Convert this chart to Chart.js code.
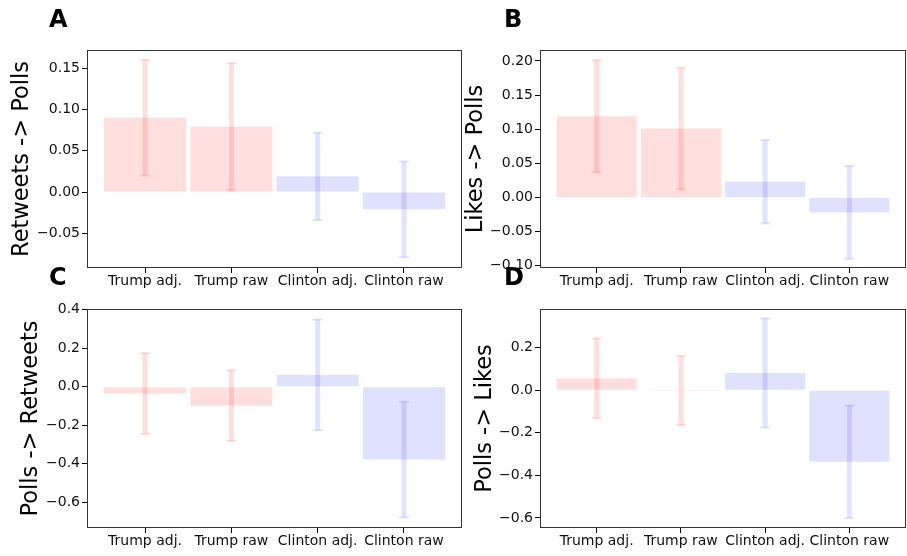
<!DOCTYPE html>
<html>
<head>
<meta charset="utf-8">
<script src="https://cdn.jsdelivr.net/npm/chart.js@4"></script>
<style>
  body { margin: 0; background: #fff; }
  #wrap { position: relative; width: 907px; height: 556px; overflow: hidden; font-family: "DejaVu Sans", sans-serif; }
  canvas { position: absolute; }
  .letter { position: absolute; font: bold 24px "DejaVu Sans", sans-serif; line-height: 1; color: #000; }
</style>
</head>
<body>
<div id="wrap">
  <canvas id="chartA" width="470" height="292" style="left:0;top:0"></canvas>
  <canvas id="chartB" width="452" height="292" style="left:455px;top:0"></canvas>
  <canvas id="chartC" width="470" height="266" style="left:0;top:290px"></canvas>
  <canvas id="chartD" width="452" height="266" style="left:455px;top:290px"></canvas>
  <div class="letter" style="left:49px;top:7px">A</div>
  <div class="letter" style="left:504px;top:7px">B</div>
  <div class="letter" style="left:49px;top:265px">C</div>
  <div class="letter" style="left:504px;top:265px">D</div>
</div>
<script>
// categories shared by all four panels
const categories = ['Trump adj.', 'Trump raw', 'Clinton adj.', 'Clinton raw'];

// A: Retweets -> Polls
const retweetsToPolls = [0.090, 0.079, 0.019, -0.021];
const retweetsToPollsErr = [0.070, 0.077, 0.053, 0.058];
const ticksA = [-0.05, 0.00, 0.05, 0.10, 0.15];

// B: Likes -> Polls
const likesToPolls = [0.119, 0.101, 0.023, -0.022];
const likesToPollsErr = [0.082, 0.089, 0.061, 0.068];
const ticksB = [-0.10, -0.05, 0.00, 0.05, 0.10, 0.15, 0.20];

// C: Polls -> Retweets
const pollsToRetweets = [-0.035, -0.098, 0.062, -0.378];
const pollsToRetweetsErr = [0.210, 0.183, 0.287, 0.300];
const ticksC = [-0.6, -0.4, -0.2, 0.0, 0.2, 0.4];

// D: Polls -> Likes
const pollsToLikes = [0.055, -0.002, 0.081, -0.336];
const pollsToLikesErr = [0.187, 0.162, 0.256, 0.264];
const ticksD = [-0.6, -0.4, -0.2, 0.0, 0.2];

const barColors = ['rgba(255,0,0,0.13)', 'rgba(255,0,0,0.13)', 'rgba(0,0,255,0.12)', 'rgba(0,0,255,0.12)'];
const errColors = ['rgba(255,0,0,0.13)', 'rgba(255,0,0,0.13)', 'rgba(0,0,255,0.11)', 'rgba(0,0,255,0.11)'];

const tickFont = { family: 'DejaVu Sans', size: 14 };

// frame around the plot area, like matplotlib spines
const boxPlugin = {
  id: 'box',
  afterDraw(chart) {
    const a = chart.chartArea;
    const ctx = chart.ctx;
    ctx.save();
    ctx.strokeStyle = '#333';
    ctx.lineWidth = 1;
    ctx.strokeRect(Math.round(a.left) + 0.5, Math.round(a.top) + 0.5, Math.round(a.right - a.left) - 1, Math.round(a.bottom - a.top) - 1);
    ctx.restore();
  }
};

// error bars with caps, positioned with the chart's own scales
const errorBarPlugin = {
  id: 'errorBars',
  afterDatasetsDraw(chart, args, opts) {
    const ctx = chart.ctx;
    const xs = chart.scales.x, ys = chart.scales.y;
    ctx.save();
    opts.values.forEach((v, i) => {
      const x = xs.getPixelForValue(i);
      const top = ys.getPixelForValue(v + opts.errors[i]);
      const bot = ys.getPixelForValue(v - opts.errors[i]);
      ctx.fillStyle = errColors[i];
      ctx.fillRect(x - 2.5, top, 5, bot - top);
      ctx.fillRect(x - 5, top - 1, 10, 2);
      ctx.fillRect(x - 5, bot - 1, 10, 2);
    });
    ctx.restore();
  }
};

function makePanel(id, values, errors, yMin, yMax, yTicks, decimals, yTitle, sizes) {
  new Chart(document.getElementById(id), {
    type: 'bar',
    data: {
      datasets: [{
        data: values.map((v, i) => ({ x: i, y: v })),
        backgroundColor: barColors,
        borderWidth: 0,
        categoryPercentage: 0.95,
        barPercentage: 1.0
      }]
    },
    options: {
      responsive: false,
      animation: false,
      devicePixelRatio: 1,
      layout: { padding: { top: sizes.top, right: sizes.right, left: 0, bottom: 0 } },
      plugins: {
        legend: { display: false },
        tooltip: { enabled: false },
        errorBars: { values: values, errors: errors }
      },
      scales: {
        x: {
          type: 'linear',
          offset: false,
          min: -0.6725,
          max: 3.6725,
          grid: { drawOnChartArea: false, offset: false, tickLength: 5, color: '#000' },
          border: { display: false },
          afterBuildTicks: s => { s.ticks = categories.map((c, i) => ({ value: i })); },
          afterFit: s => { s.height = sizes.xh; },
          ticks: {
            font: tickFont, color: '#111', padding: 0, maxRotation: 0, autoSkip: false,
            callback: v => categories[v]
          }
        },
        y: {
          min: yMin,
          max: yMax,
          grid: { drawOnChartArea: false, tickLength: 5, color: '#000' },
          border: { display: false },
          afterBuildTicks: s => { s.ticks = yTicks.map(v => ({ value: v })); },
          afterFit: s => { s.width = sizes.yw; },
          ticks: {
            font: tickFont, color: '#111', padding: 2,
            callback: v => v.toFixed(decimals).replace('-', '\u2212')
          },
          title: {
            display: true, text: yTitle, color: '#000',
            font: { family: 'DejaVu Sans', size: 22.5 },
            padding: { top: sizes.tp, bottom: 0 }
          }
        }
      }
    },
    plugins: [boxPlugin, errorBarPlugin]
  });
}

makePanel('chartA', retweetsToPolls, retweetsToPollsErr, -0.092, 0.172, ticksA, 2, 'Retweets -> Polls', { top: 50, right: 8, xh: 24, yw: 87, tp: 9 });
makePanel('chartB', likesToPolls, likesToPollsErr, -0.1034, 0.216, ticksB, 2, 'Likes -> Polls', { top: 50, right: 1, xh: 24, yw: 85, tp: 8 });
makePanel('chartC', pollsToRetweets, pollsToRetweetsErr, -0.733, 0.4036, ticksC, 1, 'Polls -> Retweets', { top: 19, right: 8, xh: 28, yw: 87, tp: 18 });
makePanel('chartD', pollsToLikes, pollsToLikesErr, -0.647, 0.381, ticksD, 1, 'Polls -> Likes', { top: 19, right: 1, xh: 28, yw: 85, tp: 17 });
</script>
</body>
</html>
